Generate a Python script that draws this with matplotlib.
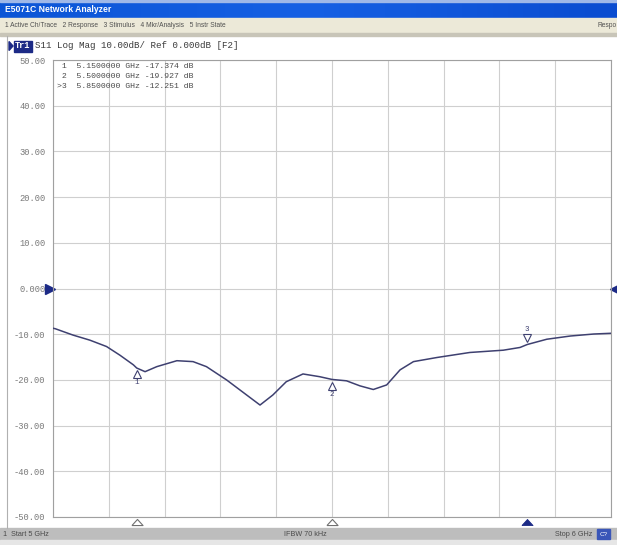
import matplotlib
matplotlib.use("Agg")
import matplotlib.pyplot as plt
from matplotlib.patches import Rectangle, Polygon
from matplotlib.transforms import offset_copy, blended_transform_factory
import numpy as np

# ---------------- data ----------------
freq_ghz = [5.000, 5.004, 5.036, 5.066, 5.096, 5.120, 5.144, 5.150, 5.165, 5.186,
            5.222, 5.251, 5.275, 5.311, 5.335, 5.371, 5.394, 5.418, 5.448, 5.478,
            5.500, 5.526, 5.550, 5.574, 5.598, 5.622, 5.646, 5.688, 5.747, 5.807,
            5.837, 5.850, 5.885, 5.927, 5.969, 6.000]
s11_db = [-8.7, -8.8, -10.2, -11.3, -12.7, -14.6, -16.7, -17.4, -18.2, -17.1,
          -15.8, -16.0, -17.1, -20.0, -22.2, -25.5, -23.3, -20.4, -18.7, -19.3,
          -19.9, -20.2, -21.3, -22.1, -21.1, -17.8, -16.0, -15.1, -14.0, -13.5,
          -12.9, -12.25, -11.1, -10.4, -9.96, -9.8]

marker_labels = ["1", "2", "3"]
marker_freq = [5.15, 5.50, 5.85]
marker_db = [-17.374, -19.927, -12.251]
active_marker = "3"

ytick_vals = [50, 40, 30, 20, 10, 0, -10, -20, -30, -40, -50]
ytick_labels = ["50.00", "40.00", "30.00", "20.00", "10.00", "0.000",
                "-10.00", "-20.00", "-30.00", "-40.00", "-50.00"]
xtick_vals = list(np.linspace(5.0, 6.0, 11))

W, H = 617, 545
NAVY = "#1c2a86"
TRACE = "#3e4070"
MONO = "Liberation Mono"
SANS = "Liberation Sans"

fig = plt.figure(figsize=(W / 100, H / 100), dpi=100)
fig.patch.set_facecolor("white")

# ---------------- main chart ----------------
L, R, T, B = 53, 611, 60, 517
ax = fig.add_axes([L / W, (H - B) / H, (R - L) / W, (B - T) / H])
ax.set_xlim(5.0, 6.0)
ax.set_ylim(-50, 50)
ax.set_xticks(xtick_vals)
ax.set_xticklabels([])
ax.set_yticks(ytick_vals, labels=ytick_labels)
ax.tick_params(axis="both", length=0)
ax.tick_params(axis="y", pad=5.5, labelsize=6.3, labelcolor="#7a7a7a")
for lab in ax.get_yticklabels():
    lab.set_fontfamily(MONO)
ax.grid(True, color="#cfcfcf", lw=0.8)
for s in ax.spines.values():
    s.set_color("#a0a0a0")
    s.set_linewidth(0.8)

ax.plot(freq_ghz, s11_db, color=TRACE, lw=1.1, zorder=3)

# markers on trace
for lab, f, v in zip(marker_labels, marker_freq, marker_db):
    if lab == active_marker:
        tri = offset_copy(ax.transData, fig=fig, x=0, y=6, units="dots")
        ax.plot([f], [v], marker="v", ms=6, mfc="white", mec=TRACE, mew=0.8,
                transform=tri, zorder=4)
        ax.annotate(lab, (f, v), xytext=(0, 11), textcoords="offset pixels",
                    ha="center", va="bottom", fontsize=5.5, color=TRACE,
                    family=MONO)
    else:
        tri = offset_copy(ax.transData, fig=fig, x=0, y=-6, units="dots")
        ax.plot([f], [v], marker="^", ms=6, mfc="white", mec=TRACE, mew=0.8,
                transform=tri, zorder=4)
        ax.annotate(lab, (f, v), xytext=(0, -11), textcoords="offset pixels",
                    ha="center", va="top", fontsize=5.5, color=TRACE,
                    family=MONO)

# marker position indicators below the axis (flat triangles)
flat_tri = [(-1, -0.55), (1, -0.55), (0, 0.55), (-1, -0.55)]
bt = blended_transform_factory(ax.transData, ax.transAxes)
for lab, f in zip(marker_labels, marker_freq):
    if lab == active_marker:
        ax.plot([f], [-5 / (B - T)], marker=flat_tri, ms=8, mfc=NAVY, mec=NAVY,
                mew=0.6, transform=bt, clip_on=False)
    else:
        ax.plot([f], [-5 / (B - T)], marker=flat_tri, ms=8, mfc="white",
                mec="#707070", mew=0.8, transform=bt, clip_on=False)

# reference level arrows (0 dB)
rt = blended_transform_factory(ax.transAxes, ax.transData)
ax.plot([-3.5 / (R - L)], [0], marker=">", ms=7, color=NAVY, transform=rt,
        clip_on=False)
ax.plot([1 + 3.5 / (R - L)], [0], marker="<", ms=7, color=NAVY, transform=rt,
        clip_on=False)

# marker readout
readout = []
for lab, f, v in zip(marker_labels, marker_freq, marker_db):
    pre = ">" if lab == active_marker else " "
    readout.append(f"{pre}{lab}  {f:.7f} GHz {v:.3f} dB")
for i, line in enumerate(readout):
    ax.text((57 - L) / (R - L), 1 - (7 + 9.7 * i) / (B - T), line,
            transform=ax.transAxes, ha="left", va="center", fontsize=5.9,
            family=MONO, color="#4a4a4a")

# ---------------- window chrome (pixel coordinates) ----------------
ov = fig.add_axes([0, 0, 1, 1], zorder=5)
ov.set_xlim(0, W)
ov.set_ylim(H, 0)
ov.axis("off")
ov.patch.set_alpha(0)

# title bar with gradient
grad = np.linspace(0, 1, 256).reshape(1, -1)
ov.imshow(np.vstack([grad, grad]), extent=(0, W, 18, 1), aspect="auto",
          cmap=matplotlib.colors.LinearSegmentedColormap.from_list(
              "tb", ["#0b55d6", "#1660e4", "#0a4cd0"]), zorder=1)
ov.add_patch(Rectangle((0, 0), W, 1.5, color="#9fb8e8", zorder=2))
ov.text(5, 9.5, "E5071C Network Analyzer", color="white", fontsize=6.2,
        fontweight="bold", family=SANS, va="center", ha="left", zorder=3)

# menu bar
ov.add_patch(Rectangle((0, 18), W, 15, color="#ece9d8", zorder=1))
ov.add_patch(Rectangle((0, 33), W, 3, color="#c8c5b8", zorder=1))
ov.text(5, 25.5, "1 Active Ch/Trace   2 Response   3 Stimulus   4 Mkr/Analysis   5 Instr State",
        fontsize=4.8, family=SANS, color="#505050", va="center", ha="left")
ov.text(598, 25.5, "Respo", fontsize=4.8, family=SANS, color="#505050",
        va="center", ha="left", clip_on=True)

# window side borders
ov.plot([7, 7], [36, 528], color="#b0b0b0", lw=0.8)

# trace header
ov.add_patch(Polygon([[9, 41.5], [9, 50.5], [13, 46]], closed=True, color=NAVY))
ov.add_patch(Rectangle((13.5, 40.5), 18, 11, color=NAVY))
ov.text(22.5, 46, "Tr1", color="white", fontsize=6.2, family=MONO,
        fontweight="bold", ha="center", va="center")
ov.text(35, 46, "S11 Log Mag 10.00dB/ Ref 0.000dB [F2]", fontsize=6.6,
        family=MONO, color="#3a3a3a", ha="left", va="center")

# status bar
ov.add_patch(Rectangle((0, 528), W, 11.5, color="#bdbdbd", zorder=1))
ov.add_patch(Rectangle((0, 539.5), W, 5.5, color="#e6e6e6", zorder=1))
ov.text(3, 534, "1  Start 5 GHz", fontsize=5.2, family=SANS, color="#4a4a4a",
        va="center", ha="left")
ov.text(305, 534, "IFBW 70 kHz", fontsize=5.2, family=SANS, color="#4a4a4a",
        va="center", ha="center")
ov.text(592, 534, "Stop 6 GHz", fontsize=5.2, family=SANS, color="#4a4a4a",
        va="center", ha="right")
ov.add_patch(Rectangle((597, 529), 13, 10, color="#3a56b8", zorder=2))
ov.text(603.5, 534, "C?", fontsize=4.6, family=SANS, color="white",
        va="center", ha="center", zorder=3)

fig.savefig("out.png", dpi=100)
